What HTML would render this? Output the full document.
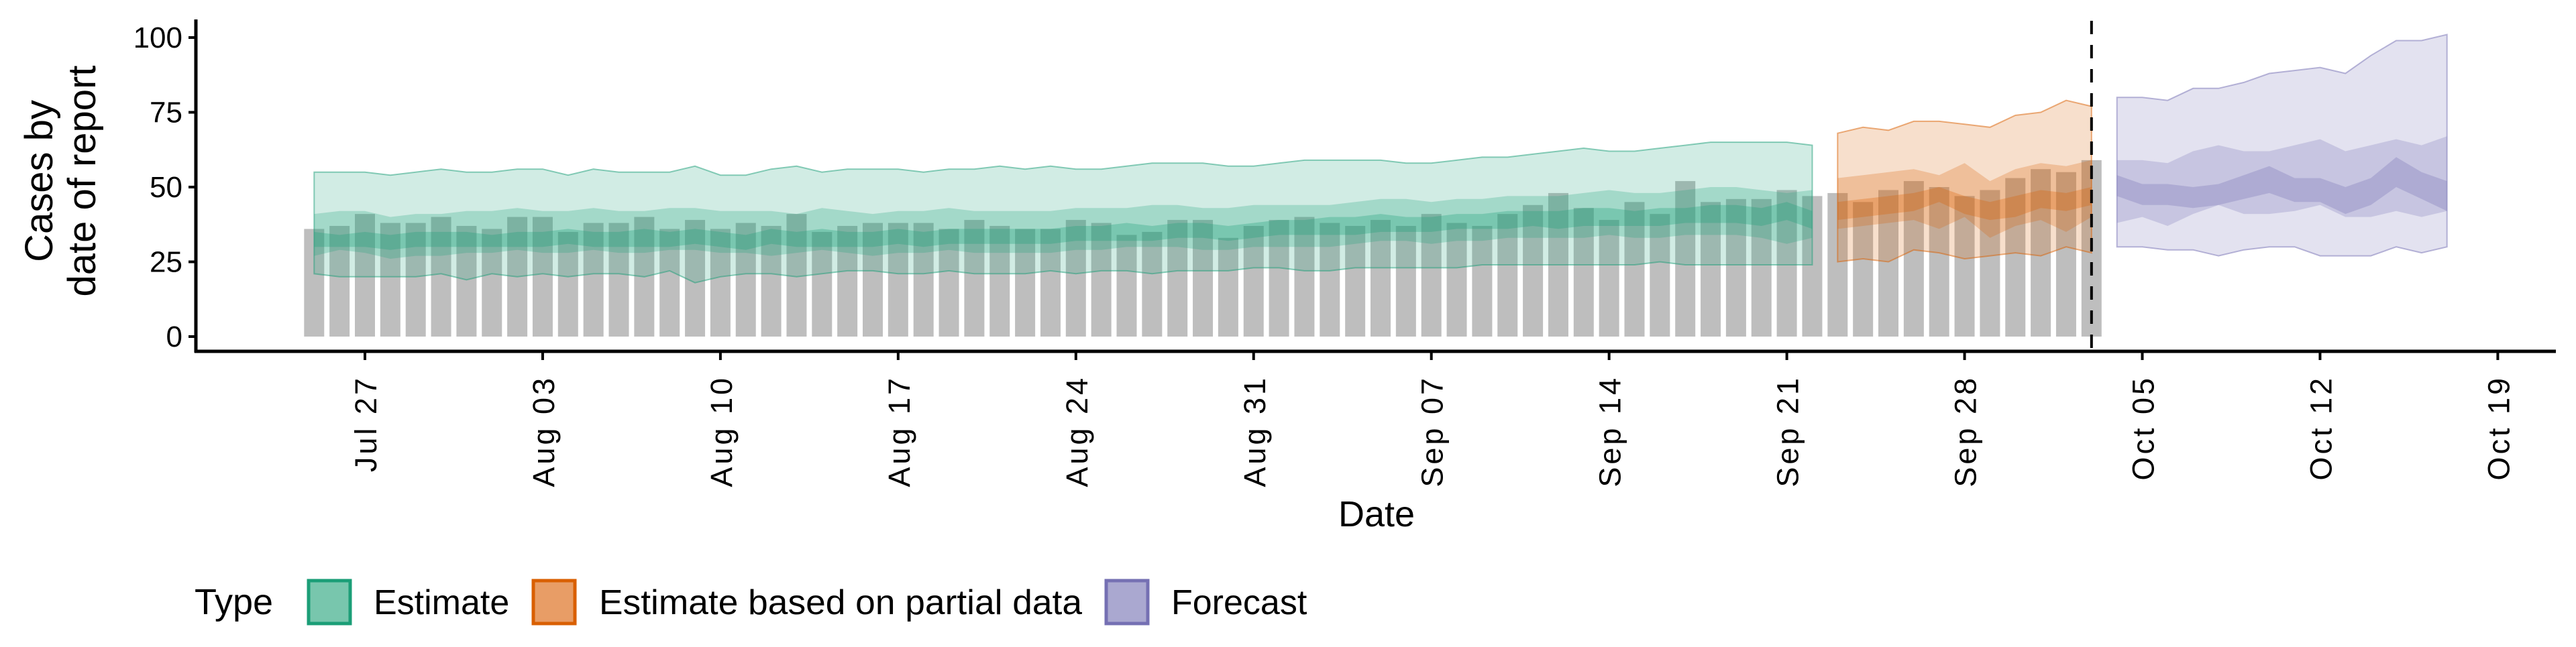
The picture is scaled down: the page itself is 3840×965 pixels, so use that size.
<!DOCTYPE html>
<html><head><meta charset="utf-8">
<style>
html,body{margin:0;padding:0;background:#fff;}
svg text{font-family:"Liberation Sans",sans-serif;fill:#000;}
</style></head>
<body>
<svg id="chart" width="3840" height="960" viewBox="0 0 3840 960" xmlns="http://www.w3.org/2000/svg">
<g id="bars"></g>
<g id="bands"></g>
<g id="axes"></g>
<text transform="translate(78,270) rotate(-90)" text-anchor="middle" font-size="58"><tspan x="0" dy="0">Cases by</tspan><tspan x="0" dy="64">date of report</tspan></text>
<text x="2052" y="785" text-anchor="middle" font-size="54">Date</text>
<g>
<text x="290" y="916" font-size="54">Type</text>
<g>
<rect x="460" y="866" width="62" height="64" fill="#78c6ad" stroke="#1b9e77" stroke-width="5"/>
<text x="557" y="916" font-size="52">Estimate</text></g>
<g>
<rect x="795" y="866" width="62" height="64" fill="#e89d66" stroke="#d95f02" stroke-width="5"/>
<text x="893" y="916" font-size="52" textLength="720" lengthAdjust="spacingAndGlyphs">Estimate based on partial data</text></g>
<g>
<rect x="1649" y="866" width="62" height="64" fill="#aaa8d0" stroke="#7570b3" stroke-width="5"/>
<text x="1746" y="916" font-size="52">Forecast</text></g>
</g>
</svg>
<script>
const NS="http://www.w3.org/2000/svg";
// day index 0 = Jul 27
const barStartDay=-2;
const barValues=[36,37,41,38,38,40,37,36,40,40,35,38,38,40,36,39,36,38,37,41,35,37,38,
38,38,36,39,37,36,36,39,38,34,35,39,39,33,37,39,40,38,37,39,37,41,38,37,41,44,48,43,39,45,41,52,45,46,
46,49,47,48,45,49,52,50,47,49,53,56,55,59];
const estStartDay=-2;
const estHi90=[55,55,55,54,55,56,55,55,56,56,54,56,55,55,55,57,54,54,56,57,55,56,56,56,55,56,56,57,56,57,56,56,57,58,58,58,57,57,58,59,59,59,59,58,58,59,60,60,61,62,63,62,62,63,64,65,65,65,65,64];
const estHi50=[41,42,42,40,41,41,42,42,43,42,42,43,42,42,43,43,42,42,42,41,43,42,41,42,42,43,42,42,42,42,43,43,43,44,44,43,43,44,44,44,44,45,46,46,45,46,46,47,47,47,48,49,48,48,49,50,50,49,48,49];
const estHi20=[35,34,35,34,35,35,35,34,35,35,36,35,35,36,35,36,35,34,36,35,36,35,35,36,35,36,36,36,36,36,37,37,38,37,38,38,37,38,39,39,40,40,41,40,40,41,41,42,42,42,43,43,42,43,43,44,44,43,45,42];
const estLo20=[30,30,30,29,30,30,30,30,30,30,31,30,30,30,30,31,30,29,31,30,30,30,30,31,30,31,31,31,31,31,32,32,32,32,33,33,32,33,34,34,34,34,35,35,35,36,36,36,37,36,37,37,37,37,38,38,38,37,39,36];
const estLo50=[27,29,28,26,27,27,28,28,29,28,28,29,28,28,29,29,28,28,27,28,29,28,27,28,28,29,28,28,28,28,29,29,30,30,30,29,29,30,30,30,30,31,32,32,31,32,32,33,33,33,33,34,33,33,34,34,34,33,31,33];
const estLo90=[21,20,20,20,20,21,19,21,20,21,20,21,21,20,22,18,20,21,21,20,21,22,22,21,21,22,21,21,21,22,21,22,22,21,22,22,22,23,23,22,22,23,23,23,23,23,24,24,24,24,24,24,24,25,24,24,24,24,24,24];
const partStartDay=58;
const partHi90=[68,70,69,72,72,71,70,74,75,79,77];
const partHi50=[53,54,55,56,54,58,52,56,58,57,59];
const partHi20=[45,46,47,48,50,47,45,47,49,48,50];
const partLo20=[39,40,41,42,45,41,39,40,43,42,44];
const partLo50=[36,37,38,39,36,40,33,37,39,35,40];
const partLo90=[25,26,25,29,28,26,27,28,27,30,28];
const fcStartDay=69;
const fcHi90=[80,80,79,83,83,85,88,89,90,88,94,99,99,101];
const fcHi50=[59,59,58,62,64,62,62,64,66,62,64,66,64,67];
const fcHi20=[54,51,51,50,51,54,57,53,53,50,53,60,55,52];
const fcLo20=[47,44,44,43,44,46,48,45,45,41,44,50,46,42];
const fcLo50=[38,40,37,41,44,41,41,42,44,40,40,42,40,42];
const fcLo90=[30,30,29,29,27,29,30,30,27,27,27,30,28,30];
const yTicks=[0,25,50,75,100];
const xTickLabels=["Jul 27","Aug 03","Aug 10","Aug 17","Aug 24","Aug 31","Sep 07","Sep 14","Sep 21","Sep 28","Oct 05","Oct 12","Oct 19"];
const xTickDays=[0,7,14,21,28,35,42,49,56,63,70,77,84];
const nowDay=68;

const X=d=>544+d*37.85;
const Y=v=>502-v*4.46;
const bars=document.getElementById('bars');
barValues.forEach((v,i)=>{
  const r=document.createElementNS(NS,'rect');
  const cx=X(barStartDay+i);
  r.setAttribute('x',cx-15);r.setAttribute('width',30);
  r.setAttribute('y',Y(v));r.setAttribute('height',Y(0)-Y(v));
  r.setAttribute('fill','#bebebe');
  
  
  bars.appendChild(r);
});
const bands=document.getElementById('bands');
function band(start,lo,hi,color,op,name,outline){
  const n=Math.min(lo.length,hi.length);
  let pts=[];
  for(let i=0;i<n;i++)pts.push(X(start+i).toFixed(1)+','+Y(hi[i]).toFixed(1));
  for(let i=n-1;i>=0;i--)pts.push(X(start+i).toFixed(1)+','+Y(lo[i]).toFixed(1));
  const p=document.createElementNS(NS,'polygon');
  p.setAttribute('points',pts.join(' '));
  p.setAttribute('fill',color);p.setAttribute('fill-opacity',op);
  if(outline){p.setAttribute('stroke',color);p.setAttribute('stroke-opacity',0.5);p.setAttribute('stroke-width',2);}
  
  
  bands.appendChild(p);
}
function group(start,h90,h50,h20,l20,l50,l90,color,name){
  band(start,l90,h90,color,0.2,name+'-90-band',true);
  band(start,l50,h50,color,0.25,name+'-50-band',false);
  band(start,l20,h20,color,0.3,name+'-20-band',false);
}
group(estStartDay,estHi90,estHi50,estHi20,estLo20,estLo50,estLo90,'#1b9e77','estimate');
group(partStartDay,partHi90,partHi50,partHi20,partLo20,partLo50,partLo90,'#d95f02','partial');
group(fcStartDay,fcHi90,fcHi50,fcHi20,fcLo20,fcLo50,fcLo90,'#7570b3','forecast');

const axes=document.getElementById('axes');
function line(x1,y1,x2,y2,w,name,dash){
  const l=document.createElementNS(NS,'line');
  l.setAttribute('x1',x1);l.setAttribute('y1',y1);l.setAttribute('x2',x2);l.setAttribute('y2',y2);
  l.setAttribute('stroke','#000');l.setAttribute('stroke-width',w);
  if(dash)l.setAttribute('stroke-dasharray',dash);
  
  
  axes.appendChild(l);
}
line(X(nowDay),31,X(nowDay),524,4,'forecast-date-line','20,16');
line(292,29,292,526,5,'y-axis-line');
line(290,524,3810,524,5,'x-axis-line');
yTicks.forEach(v=>{
  line(281,Y(v),292,Y(v),4,'y-tick');
  const t=document.createElementNS(NS,'text');
  t.setAttribute('x',272);t.setAttribute('y',Y(v)+15);
  t.setAttribute('text-anchor','end');t.setAttribute('font-size',44);
  t.textContent=v;
  
  
  axes.appendChild(t);
});
xTickDays.forEach((d,i)=>{
  line(X(d),524,X(d),537,4,'x-tick');
  const t=document.createElementNS(NS,'text');
  t.setAttribute('transform','translate('+(X(d)+17)+',560) rotate(-90)');
  t.setAttribute('text-anchor','end');t.setAttribute('font-size',45);
  t.setAttribute('letter-spacing','4');
  t.textContent=xTickLabels[i];
  
  
  axes.appendChild(t);
});
</script>
</body></html>
